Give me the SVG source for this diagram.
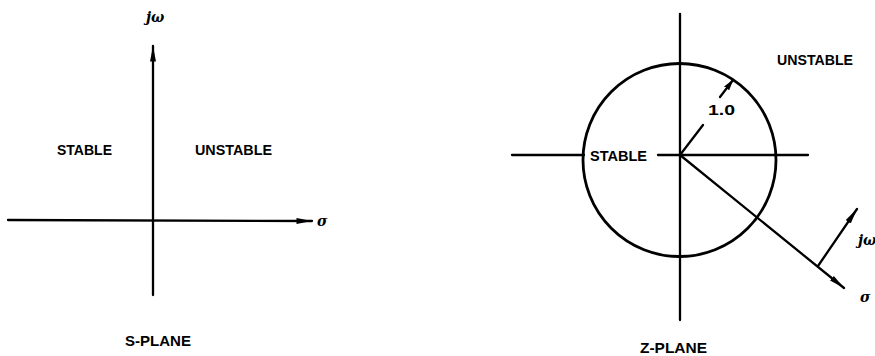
<svg xmlns="http://www.w3.org/2000/svg" width="875" height="356" viewBox="0 0 875 356">
  <style>
    .ax { stroke: #000; stroke-width: 2.3; fill: none; stroke-linecap: round; }
    .circ { stroke: #000; stroke-width: 2.8; fill: none; }
    .lbl { font-family: "Liberation Sans", Arial, sans-serif; font-weight: bold; font-size: 15px; fill: #000; }
    .sym { font-family: "DejaVu Serif", "Liberation Serif", serif; font-style: italic; font-weight: bold; font-size: 14px; fill: #000; }
  </style>
  <defs>
    <marker id="arr" viewBox="0 0 16 8" refX="15.5" refY="4" markerWidth="16" markerHeight="8" markerUnits="userSpaceOnUse" orient="auto">
      <path d="M0,1 L16,4 L0,7 Z" fill="#000"/>
    </marker>
    <marker id="arrS" viewBox="0 0 11 8" refX="10.5" refY="4" markerWidth="11" markerHeight="8" markerUnits="userSpaceOnUse" orient="auto">
      <path d="M0,0.8 L11,4 L0,7.2 Z" fill="#000"/>
    </marker>
  </defs>
  <rect width="875" height="356" fill="#fff"/>

  <!-- s-plane: imaginary and real axes -->
  <g id="connectors">
    <line class="ax" x1="153" y1="295" x2="153" y2="46" marker-end="url(#arr)"/>
    <line class="ax" x1="8" y1="220" x2="312" y2="221" marker-end="url(#arr)"/>

    <!-- z-plane axes -->
    <line class="ax" x1="680" y1="14" x2="680" y2="320"/>
    <line class="ax" x1="512" y1="155" x2="584" y2="155"/>
    <line class="ax" x1="658" y1="155" x2="808" y2="155"/>
    <!-- radius and unit label pointer -->
    <line class="ax" x1="680" y1="155" x2="703" y2="125"/>
    <line class="ax" x1="720" y1="97" x2="733" y2="80" marker-end="url(#arrS)"/>
    <!-- rotated sigma / j-omega frame -->
    <line class="ax" x1="680" y1="155" x2="844" y2="288" marker-end="url(#arr)"/>
    <line class="ax" x1="818" y1="266" x2="857" y2="209" marker-end="url(#arr)"/>
  </g>

  <g id="s-plane">
    <text class="sym" x="146" y="22">jω</text>
    <text class="sym" x="317" y="226">σ</text>
    <text class="lbl" x="57" y="155" textLength="55" lengthAdjust="spacingAndGlyphs">STABLE</text>
    <text class="lbl" x="195" y="155" textLength="77" lengthAdjust="spacingAndGlyphs">UNSTABLE</text>
    <text class="lbl" x="125" y="346" textLength="66" lengthAdjust="spacingAndGlyphs">S-PLANE</text>
  </g>

  <g id="z-plane">
    <circle class="circ" cx="679.5" cy="160" r="96.5"/>
    <text class="lbl" x="590" y="161" textLength="57" lengthAdjust="spacingAndGlyphs">STABLE</text>
    <text class="lbl" x="777" y="65" textLength="76" lengthAdjust="spacingAndGlyphs">UNSTABLE</text>
    <text class="lbl" x="708" y="115" textLength="27" lengthAdjust="spacingAndGlyphs">1.0</text>
    <text class="sym" x="858" y="245">jω</text>
    <text class="sym" x="860" y="302">σ</text>
    <text class="lbl" x="640" y="353" textLength="67" lengthAdjust="spacingAndGlyphs">Z-PLANE</text>
  </g>
</svg>
